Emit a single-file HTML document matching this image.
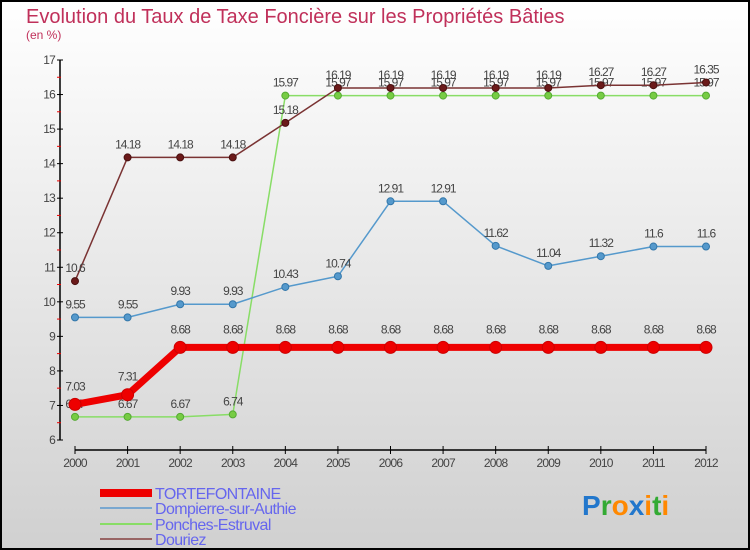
<!DOCTYPE html>
<html><head><meta charset="utf-8"><style>
body{margin:0;width:750px;height:550px;overflow:hidden}
svg{display:block;font-family:"Liberation Sans",sans-serif}
</style></head><body>
<svg id="chart" width="750" height="550">
<defs><linearGradient id="bg" x1="0" y1="0" x2="0" y2="1"><stop offset="0" stop-color="#ffffff"/><stop offset="1" stop-color="#d0d0d0"/></linearGradient></defs>
<rect x="1" y="1" width="748" height="548" fill="url(#bg)" stroke="#000" stroke-width="2"/>
<text x="26" y="23" font-size="20" fill="#c0305a">Evolution du Taux de Taxe Foncière sur les Propriétés Bâties</text>
<text x="26" y="39" font-size="12" fill="#c0305a">(en %)</text>
<g id="axes"></g><g id="series"></g>
<g>
<rect x="100" y="489" width="52" height="8" fill="#ee0000"/>
<text x="155" y="499" font-size="16" fill="#6666ee" letter-spacing="-0.6">TORTEFONTAINE</text>
<rect x="100" y="507" width="52" height="2" fill="#7aa8d0"/>
<text x="155" y="514" font-size="16" fill="#6666ee" letter-spacing="-0.6">Dompierre-sur-Authie</text>
<rect x="100" y="523" width="52" height="2" fill="#88dd66"/>
<text x="155" y="530" font-size="16" fill="#6666ee" letter-spacing="-0.6">Ponches-Estruval</text>
<rect x="100" y="538" width="52" height="2" fill="#996666"/>
<text x="155" y="545" font-size="16" fill="#6666ee" letter-spacing="-0.6">Douriez</text>
</g>
<text x="582" y="515" font-size="28" font-weight="bold"><tspan fill="#2277cc">P</tspan><tspan fill="#33aa33">r</tspan><tspan fill="#ff8800">o</tspan><tspan fill="#2277cc">x</tspan><tspan fill="#ff8800">i</tspan><tspan fill="#33aa33">t</tspan><tspan fill="#ff8800">i</tspan></text>
</svg>
<script>
const years=[2000,2001,2002,2003,2004,2005,2006,2007,2008,2009,2010,2011,2012];
const tortefontaine=[7.03,7.31,8.68,8.68,8.68,8.68,8.68,8.68,8.68,8.68,8.68,8.68,8.68];
const dompierre=[9.55,9.55,9.93,9.93,10.43,10.74,12.91,12.91,11.62,11.04,11.32,11.6,11.6];
const ponches=[6.67,6.67,6.67,6.74,15.97,15.97,15.97,15.97,15.97,15.97,15.97,15.97,15.97];
const douriez=[10.6,14.18,14.18,14.18,15.18,16.19,16.19,16.19,16.19,16.19,16.27,16.27,16.35];
const yTicks=[6,7,8,9,10,11,12,13,14,15,16,17];
const NS="http://www.w3.org/2000/svg";
const xs=i=>75+i*(706-75)/(years.length-1);
const ys=v=>440-(v-6)*(440-60)/11;
function mk(t,a,p){const e=document.createElementNS(NS,t);for(const k in a)e.setAttribute(k,a[k]);p.appendChild(e);return e;}
const ax=document.getElementById('axes');
let l=mk('line',{x1:60,y1:60,x2:60,y2:440,stroke:'#000','stroke-width':1.5},ax);


l=mk('line',{x1:75,y1:450,x2:706,y2:450,stroke:'#000','stroke-width':1.5},ax);


yTicks.forEach(v=>{
 const y=ys(v);
 mk('line',{x1:57,y1:y,x2:63,y2:y,stroke:'#000'},ax);
 if(v<17){mk('line',{x1:57,y1:y-17.3,x2:61,y2:y-17.3,stroke:'#e00'},ax);}
 const t=mk('text',{x:55,y:y+4,'font-size':12,fill:'#444','text-anchor':'end','letter-spacing':'-0.8'},ax);
 t.textContent=v;
 
 
});
years.forEach((yr,i)=>{
 const x=xs(i);
 mk('line',{x1:x,y1:446,x2:x,y2:454,stroke:'#000'},ax);
 const t=mk('text',{x:x,y:467,'font-size':12,fill:'#444','text-anchor':'middle','letter-spacing':'-0.8'},ax);
 t.textContent=yr;
 
 
});
const sg=document.getElementById('series');
function series(name,data,color,w,r,dot,dotStroke,labelDy){
 const g=mk('g',{},sg);
 
 
 const p=mk('polyline',{points:data.map((v,i)=>xs(i)+','+ys(v)).join(' '),fill:'none',stroke:color,'stroke-width':w,'stroke-linejoin':'round'},g);
 
 
 data.forEach((v,i)=>{
  const c=mk('circle',{cx:xs(i),cy:ys(v),r:r,fill:dot,stroke:dotStroke,'stroke-width':1},g);
  
  
  const t=mk('text',{x:xs(i),y:ys(v)+labelDy,'font-size':12,fill:'#444','text-anchor':'middle','letter-spacing':'-1'},g);
  t.textContent=v;
  
  
 });
}
series('ponches',ponches,'#88dd66',1.5,3.5,'#77cc44','#55aa33',-9);
series('dompierre',dompierre,'#5599cc',1.5,3.5,'#5599cc','#3377aa',-9);
series('douriez',douriez,'#7a3333',1.5,3.5,'#6b1a1a','#4a1010',-9);
series('tortefontaine',tortefontaine,'#ee0000',7,6,'#ee0000','#cc0000',-14);
</script>
</body></html>
